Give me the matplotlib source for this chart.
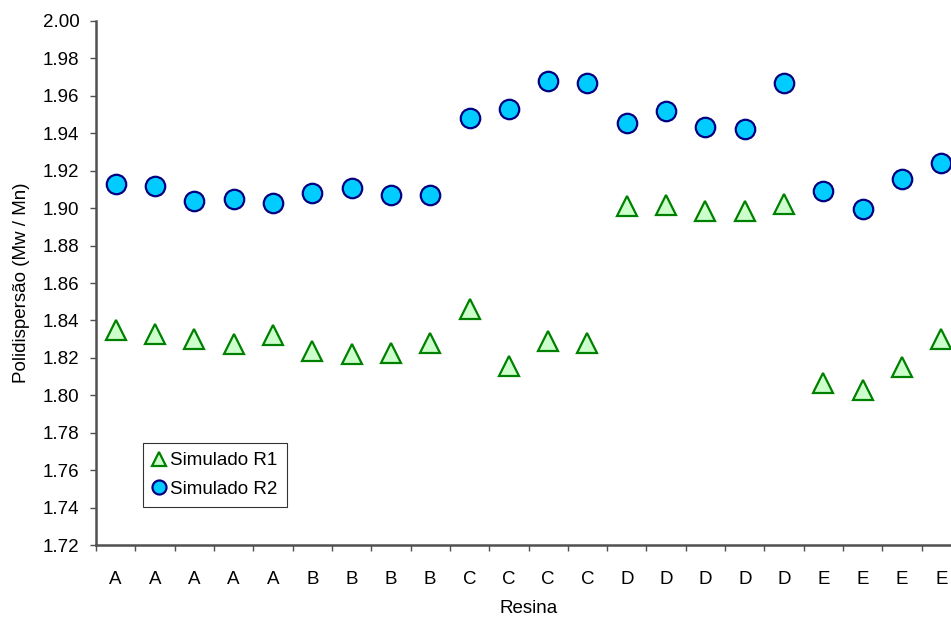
import matplotlib
matplotlib.use("Agg")
import matplotlib.pyplot as plt
import numpy as np
from matplotlib.ticker import FixedLocator, MultipleLocator, FormatStrFormatter

plt.rcParams['font.family'] = ['Liberation Sans', 'DejaVu Sans']

resinas = ['A', 'A', 'A', 'A', 'A', 'B', 'B', 'B', 'B', 'C', 'C', 'C', 'C',
           'D', 'D', 'D', 'D', 'D', 'E', 'E', 'E', 'E']

simulado_r1 = [1.835, 1.833, 1.830, 1.8275, 1.832, 1.8235, 1.822, 1.8227, 1.828,
               1.846, 1.8156, 1.8288, 1.8277,
               1.9011, 1.9017, 1.8986, 1.8985, 1.9021,
               1.8065, 1.8028, 1.8149, 1.830]

simulado_r2 = [1.913, 1.912, 1.904, 1.905, 1.903, 1.908, 1.911, 1.907, 1.907,
               1.948, 1.953, 1.968, 1.967,
               1.9455, 1.952, 1.9434, 1.9421, 1.967,
               1.909, 1.8995, 1.9154, 1.924]

FS = 13.5
AXIS_GRAY = '#505050'

fig = plt.figure(figsize=(9.51, 6.19), dpi=100)
ax = fig.add_axes([0.101, 0.1195, 0.9095, 0.8466])

x = np.arange(len(resinas))
ax.plot(x, simulado_r1, linestyle='none', marker='^', markersize=14,
        markerfacecolor='#CCFFCC', markeredgecolor='#008000', markeredgewidth=1.6,
        label='Simulado R1')
ax.plot(x, simulado_r2, linestyle='none', marker='o', markersize=14,
        markerfacecolor='#00CCFF', markeredgecolor='#000080', markeredgewidth=1.6,
        label='Simulado R2')

ax.set_xlim(-0.5, len(resinas) - 0.5)
ax.set_ylim(1.72, 2.00)
ax.yaxis.set_major_locator(MultipleLocator(0.02))
ax.yaxis.set_major_formatter(FormatStrFormatter('%.2f'))

ax.set_xticks(x)
ax.set_xticklabels(resinas)
ax.xaxis.set_minor_locator(FixedLocator(np.arange(-0.5, len(resinas), 1.0)))
ax.tick_params(axis='x', which='major', length=0, pad=19, labelsize=FS)
ax.tick_params(axis='x', which='minor', length=4, width=1, color=AXIS_GRAY)
ax.tick_params(axis='y', length=4, width=1, color=AXIS_GRAY, pad=8, labelsize=FS)

for side in ('top', 'right'):
    ax.spines[side].set_visible(False)
for side in ('left', 'bottom'):
    ax.spines[side].set_color(AXIS_GRAY)
    ax.spines[side].set_linewidth(1.8)

ax.set_xlabel('Resina', fontsize=FS, labelpad=8)
ax.set_ylabel('Polidispersão (Mw / Mn)', fontsize=FS, labelpad=9)

leg = ax.legend(loc='lower left', bbox_to_anchor=(0.0543, 0.0725), borderaxespad=0,
                fontsize=FS, markerscale=0.72, handlelength=0.75, handletextpad=0.2,
                labelspacing=0.6, borderpad=0.5, fancybox=False, frameon=True)
leg.get_frame().set_edgecolor('black')
leg.get_frame().set_linewidth(0.8)

fig.savefig('out.png', dpi=100)
